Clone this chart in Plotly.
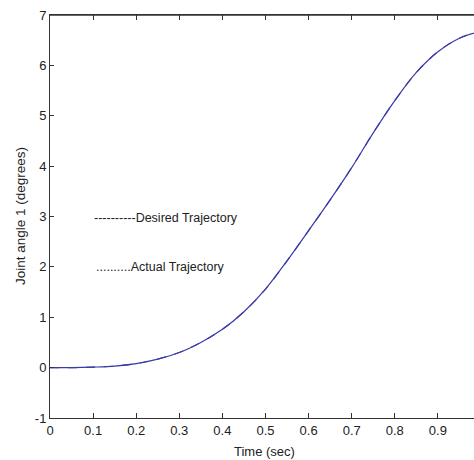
import plotly.graph_objects as go

time_sec = [0, 0.05, 0.1, 0.15, 0.2, 0.25, 0.3, 0.35, 0.4, 0.45, 0.5, 0.55, 0.6, 0.65, 0.7, 0.75, 0.8, 0.85, 0.9, 0.95, 1.0]
desired = [0, 0.0, 0.01, 0.03, 0.08, 0.17, 0.30, 0.50, 0.76, 1.11, 1.56, 2.12, 2.72, 3.33, 3.97, 4.66, 5.30, 5.86, 6.27, 6.54, 6.68]
actual = [0, 0.0, 0.01, 0.03, 0.08, 0.17, 0.30, 0.50, 0.76, 1.11, 1.56, 2.12, 2.72, 3.33, 3.97, 4.66, 5.30, 5.86, 6.27, 6.54, 6.68]

x_ticks = [0, 0.1, 0.2, 0.3, 0.4, 0.5, 0.6, 0.7, 0.8, 0.9]
x_labels = ["0", "0.1", "0.2", "0.3", "0.4", "0.5", "0.6", "0.7", "0.8", "0.9"]
y_ticks = [-1, 0, 1, 2, 3, 4, 5, 6, 7]
y_labels = ["-1", "0", "1", "2", "3", "4", "5", "6", "7"]

FONT = "Liberation Sans, Arial, sans-serif"
AX = "#333333"
X_RANGE = [0, 424 / 431]

fig = go.Figure()
fig.add_trace(go.Scatter(x=time_sec, y=desired, mode="lines", line=dict(color="#3a3aa8", width=1.2, shape="spline", dash="dash"), showlegend=False))
fig.add_trace(go.Scatter(x=time_sec, y=actual, mode="lines", xaxis="x2", line=dict(color="#3a3aa8", width=1.2, shape="spline"), showlegend=False))

fig.update_layout(
    width=474, height=460,
    margin=dict(l=50, r=0, t=15, b=42),
    paper_bgcolor="white", plot_bgcolor="white",
    font=dict(family=FONT, size=12, color="#222222"),
    xaxis=dict(range=X_RANGE, tickvals=x_ticks, ticktext=x_labels,
               ticks="inside", ticklen=5, tickcolor=AX, showline=True, linecolor=AX, linewidth=1,
               showgrid=False, zeroline=False, automargin=False,
               tickfont=dict(size=13, family=FONT)),
    xaxis2=dict(range=X_RANGE, overlaying="x", side="top", anchor="y", tickvals=x_ticks,
                showticklabels=False, ticks="inside", ticklen=5, tickcolor=AX, showline=True,
                linecolor=AX, linewidth=1, showgrid=False, zeroline=False, automargin=False),
    yaxis=dict(range=[-1, 7], tickvals=y_ticks, ticktext=y_labels, ticks="inside", ticklen=4, tickcolor=AX,
               showline=True, linecolor=AX, linewidth=1, mirror=False, showgrid=False,
               zeroline=False, automargin=False, tickfont=dict(size=13, family=FONT)),
    shapes=[dict(type="line", xref="paper", yref="paper", x0=0, x1=1, y0=1, y1=1,
                 line=dict(color=AX, width=1.3), layer="above")],
    annotations=[
        dict(text="Time (sec)", xref="paper", yref="paper", x=(264 - 50) / 424, y=-33 / 403,
             xanchor="center", yanchor="middle", showarrow=False, font=dict(size=13, family=FONT)),
        dict(text="Joint angle 1 (degrees)", xref="paper", yref="paper", x=-30 / 424, y=(418 - 216) / 403,
             xanchor="center", yanchor="middle", textangle=-90, showarrow=False, font=dict(size=13.5, family=FONT)),
        dict(text="----------Desired Trajectory", xref="x", yref="y", x=(92 - 50) / 431, y=2.97,
             xanchor="left", yanchor="middle", showarrow=False, font=dict(size=12.5, family=FONT)),
        dict(text="..........Actual Trajectory", xref="x", yref="y", x=(94 - 50) / 431, y=2.0,
             xanchor="left", yanchor="middle", showarrow=False, font=dict(size=12.5, family=FONT)),
    ],
)

fig.write_html("out.html")
